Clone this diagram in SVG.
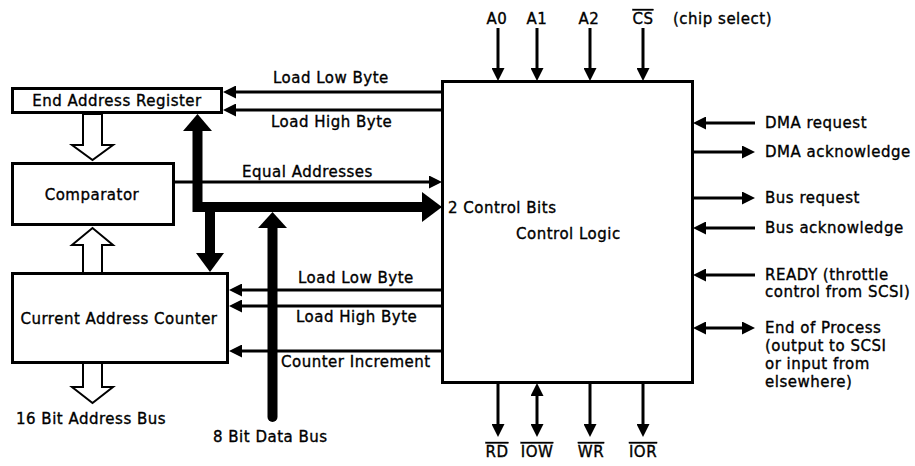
<svg xmlns="http://www.w3.org/2000/svg" width="915" height="466" viewBox="0 0 915 466">
<style>
text{font-family:"DejaVu Sans","Liberation Sans",sans-serif;font-size:15px;letter-spacing:0.5px;fill:#000;stroke:#000;stroke-width:0.35}
.box{fill:#fff;stroke:#000;stroke-width:3}
.sig{stroke:#000;stroke-width:3;fill:none}
.hol{fill:#fff;stroke:#000;stroke-width:2;stroke-linejoin:miter}
.bus{stroke:#000;stroke-width:10;fill:none;stroke-linejoin:miter}
.ol{text-decoration:overline}
.mid{text-anchor:middle}
</style>
<defs>
<marker id="ah" viewBox="0 0 13 13" markerWidth="13" markerHeight="13" refX="6" refY="6.5" orient="auto-start-reverse" markerUnits="userSpaceOnUse"><path d="M0,0 L13,6.5 L0,13 z" fill="#000"/></marker>
</defs>
<rect width="915" height="466" fill="#fff"/>

<g id="connectors">
<line class="sig" x1="442" y1="92" x2="230" y2="92" marker-end="url(#ah)"/>
<line class="sig" x1="442" y1="110" x2="230" y2="110" marker-end="url(#ah)"/>
<line class="sig" x1="174" y1="182" x2="435" y2="182" marker-end="url(#ah)"/>
<line class="sig" x1="442" y1="290" x2="236" y2="290" marker-end="url(#ah)"/>
<line class="sig" x1="442" y1="306" x2="236" y2="306" marker-end="url(#ah)"/>
<line class="sig" x1="442" y1="351" x2="236" y2="351" marker-end="url(#ah)"/>
<polygon class="hol" points="83,114 83,145 72,145 92.5,160 113,145 102,145 102,114"/>
<polygon class="hol" points="83,273 83,245 72,245 92.5,228 113,245 102,245 102,273"/>
<polygon class="hol" points="83,363 83,387 72,387 92.5,403 113,387 102,387 102,363"/>
<polyline class="bus" points="197.5,130 197.5,207 424,207"/>
<polygon points="183,131 212,131 197.5,114" fill="#000"/>
<polygon points="422,192 442,207 422,222" fill="#000"/>
<line class="bus" x1="210" y1="207" x2="210" y2="255"/>
<polygon points="196,253 224,253 210,272" fill="#000"/>
<line class="bus" x1="272.5" y1="417" x2="272.5" y2="226" stroke-linecap="round"/>
<polygon points="258,228 287,228 272.5,212" fill="#000"/>
<line class="sig" x1="498" y1="28" x2="498" y2="74" marker-end="url(#ah)"/>
<line class="sig" x1="537" y1="28" x2="537" y2="74" marker-end="url(#ah)"/>
<line class="sig" x1="590" y1="28" x2="590" y2="74" marker-end="url(#ah)"/>
<line class="sig" x1="643" y1="28" x2="643" y2="74" marker-end="url(#ah)"/>
<line class="sig" x1="755" y1="123" x2="700" y2="123" marker-end="url(#ah)"/>
<line class="sig" x1="693" y1="152" x2="748" y2="152" marker-end="url(#ah)"/>
<line class="sig" x1="693" y1="198" x2="748" y2="198" marker-end="url(#ah)"/>
<line class="sig" x1="755" y1="228" x2="700" y2="228" marker-end="url(#ah)"/>
<line class="sig" x1="755" y1="275" x2="700" y2="275" marker-end="url(#ah)"/>
<line class="sig" x1="700" y1="328" x2="748" y2="328" marker-start="url(#ah)" marker-end="url(#ah)"/>
<line class="sig" x1="498" y1="383" x2="498" y2="430" marker-end="url(#ah)"/>
<line class="sig" x1="537" y1="390" x2="537" y2="430" marker-start="url(#ah)" marker-end="url(#ah)"/>
<line class="sig" x1="590" y1="383" x2="590" y2="430" marker-end="url(#ah)"/>
<line class="sig" x1="643" y1="383" x2="643" y2="430" marker-end="url(#ah)"/>
</g>

<g id="end-address-register">
<rect class="box" x="12.5" y="88.5" width="209" height="24"/>
<text class="mid" x="117" y="106">End Address Register</text>
</g>
<g id="comparator">
<rect class="box" x="12.5" y="163.5" width="161" height="61"/>
<text class="mid" x="92" y="200">Comparator</text>
</g>
<g id="current-address-counter">
<rect class="box" x="12.5" y="273.5" width="215" height="89"/>
<text class="mid" x="119" y="324">Current Address Counter</text>
</g>
<g id="control-logic">
<rect class="box" x="442.5" y="81.5" width="250" height="301" style="fill:none"/>
<text x="448" y="213">2 Control Bits</text>
<text x="516" y="239">Control Logic</text>
</g>

<g id="labels">
<text x="273" y="83">Load Low Byte</text>
<text x="271" y="127">Load High Byte</text>
<text x="242" y="177">Equal Addresses</text>
<text x="298" y="283">Load Low Byte</text>
<text x="296" y="322">Load High Byte</text>
<text x="281" y="367">Counter Increment</text>
<text x="16" y="424">16 Bit Address Bus</text>
<text x="213" y="442">8 Bit Data Bus</text>
<text class="mid" x="497" y="24">A0</text>
<text class="mid" x="537" y="24">A1</text>
<text class="mid" x="589" y="24">A2</text>
<text class="mid ol" x="643" y="24">CS</text>
<text x="673" y="24">(chip select)</text>
<text x="765" y="128">DMA request</text>
<text x="765" y="157">DMA acknowledge</text>
<text x="765" y="203">Bus request</text>
<text x="765" y="233">Bus acknowledge</text>
<text x="765" y="280">READY (throttle</text>
<text x="765" y="297">control from SCSI)</text>
<text x="765" y="333">End of Process</text>
<text x="765" y="351">(output to SCSI</text>
<text x="765" y="369">or input from</text>
<text x="765" y="387">elsewhere)</text>
<text class="mid ol" x="497" y="457">RD</text>
<text class="mid ol" x="537" y="457">IOW</text>
<text class="mid ol" x="591" y="457">WR</text>
<text class="mid ol" x="643" y="457">IOR</text>
</g>
</svg>
